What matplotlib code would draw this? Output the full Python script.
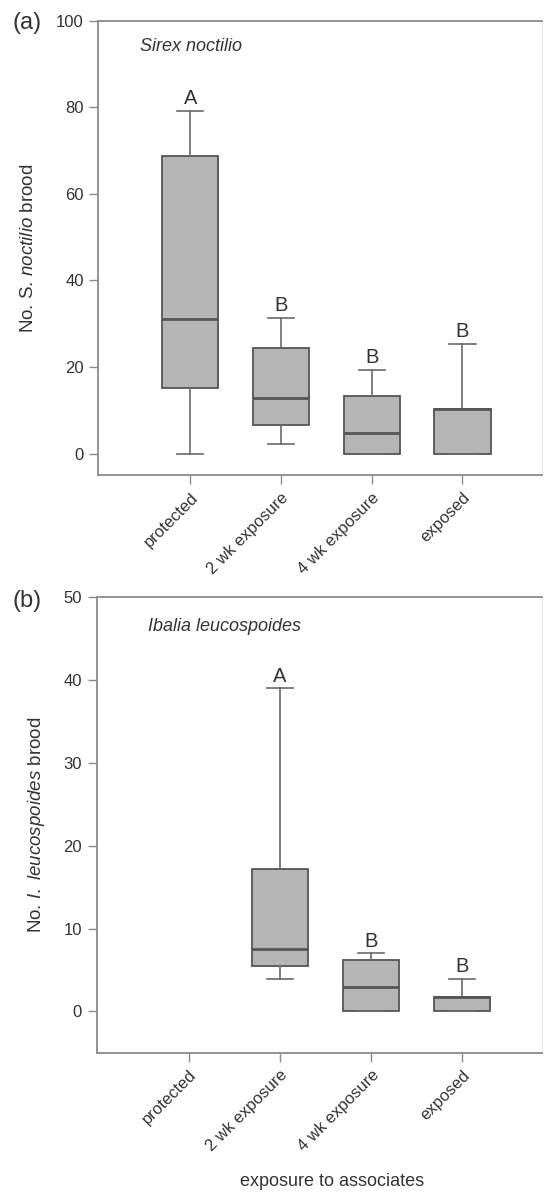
# Box plots of brood counts under different exposure to associates
# (a) Sirex noctilio, (b) Ibalia leucospoides

import matplotlib.pyplot as plt

plt.rcParams['font.family'] = ['Liberation Sans', 'DejaVu Sans']
plt.rcParams['mathtext.fontset'] = 'custom'
plt.rcParams['mathtext.rm'] = 'Liberation Sans'
plt.rcParams['mathtext.it'] = 'Liberation Sans:italic'

treatments = ['protected', '2 wk exposure', '4 wk exposure', 'exposed']

# panel (a): whisker low, q1, median, q3, whisker high
sirex_low = [0, 2.3, 0, 0]
sirex_q1 = [15.2, 6.7, 0, 0]
sirex_med = [31.0, 12.9, 4.7, 10.2]
sirex_q3 = [68.7, 24.5, 13.3, 10.2]
sirex_high = [79.2, 31.3, 19.4, 25.3]
sirex_letters = ['A', 'B', 'B', 'B']

# panel (b): no Ibalia brood came out of the protected logs
ibalia_low = [None, 3.9, 0, 0]
ibalia_q1 = [None, 5.5, 0, 0]
ibalia_med = [None, 7.5, 2.9, 1.75]
ibalia_q3 = [None, 17.2, 6.2, 1.75]
ibalia_high = [None, 39.0, 7.0, 3.9]
ibalia_letters = [None, 'A', 'B', 'B']

spine_col = '#8a8a8a'
text_col = '#333333'


def draw_panel(ax, low, q1, med, q3, high, letters, yticks):
    stats = []
    pos = []
    for i in range(len(treatments)):
        if med[i] is None:
            continue
        stats.append(dict(whislo=low[i], q1=q1[i], med=med[i], q3=q3[i],
                          whishi=high[i], fliers=[]))
        pos.append(i)
    ax.bxp(stats, positions=pos, widths=0.62, capwidths=0.29,
           patch_artist=True, showfliers=False, manage_ticks=False,
           boxprops=dict(facecolor='#b5b5b5', edgecolor='#555555', linewidth=1.3),
           medianprops=dict(color='#555555', linewidth=2),
           whiskerprops=dict(color='#6a6a6a', linewidth=1.2),
           capprops=dict(color='#6a6a6a', linewidth=1.2))
    # significance letters above the whiskers
    for i in range(len(treatments)):
        if letters[i] is None:
            continue
        ax.annotate(letters[i], (i, high[i]), xytext=(0, 2), textcoords='offset points',
                    ha='center', va='bottom', fontsize=14.5, color=text_col)

    ax.set_xlim(-1.013, 3.876)
    ax.set_ylim(-5, yticks[-1])
    ax.set_yticks(yticks)
    ax.set_xticks(range(len(treatments)))
    ax.set_xticklabels(treatments, rotation=45, ha='right', rotation_mode='anchor')
    ax.tick_params(direction='out', length=6.5, width=1, color=spine_col,
                   labelsize=12, labelcolor=text_col, pad=4)
    for s in ['left', 'bottom', 'top']:
        ax.spines[s].set_color(spine_col)
        ax.spines[s].set_linewidth(1.3)
    ax.spines['right'].set_color('#e8e8e8')


fig = plt.figure(figsize=(5.46, 11.96), dpi=100)

ax1 = fig.add_axes([0.180, 0.6026, 0.8126, 0.3801])
draw_panel(ax1, sirex_low, sirex_q1, sirex_med, sirex_q3, sirex_high,
           sirex_letters, [0, 20, 40, 60, 80, 100])
ax1.set_ylabel(r'No. S. $\mathit{noctilio}$ brood', fontsize=13.5, color=text_col, labelpad=14)
ax1.text(0.094, 0.943, 'Sirex noctilio', transform=ax1.transAxes, style='italic',
         fontsize=13, color=text_col, va='center')

ax2 = fig.add_axes([0.177, 0.1198, 0.8156, 0.3808])
draw_panel(ax2, ibalia_low, ibalia_q1, ibalia_med, ibalia_q3, ibalia_high,
           ibalia_letters, [0, 10, 20, 30, 40, 50])
ax2.set_ylabel(r'No. $\mathit{I.\ leucospoides}$ brood', fontsize=13.5, color=text_col, labelpad=12)
ax2.text(0.115, 0.935, 'Ibalia leucospoides', transform=ax2.transAxes, style='italic',
         fontsize=13, color=text_col, va='center')
ax2.set_xlabel('exposure to associates', fontsize=13, color=text_col)
ax2.xaxis.label.set_va('center')
ax2.xaxis.set_label_coords(0.528, -0.2817)

# panel letters
fig.text(27.5 / 546, 1 - 23 / 1196, '(a)', fontsize=17, color=text_col, ha='center', va='center')
fig.text(27.5 / 546, 1 - 601 / 1196, '(b)', fontsize=17, color=text_col, ha='center', va='center')

plt.savefig('out.png', dpi=100)
